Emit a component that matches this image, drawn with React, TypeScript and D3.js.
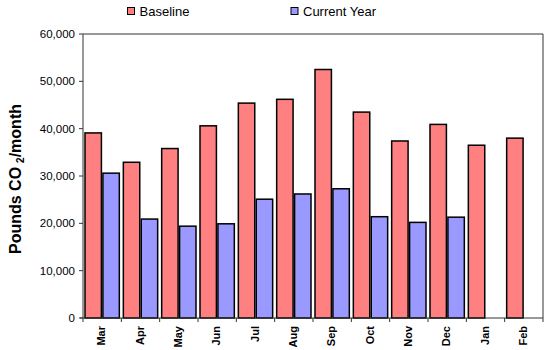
import React from "react";
import * as d3 from "d3";

const months = ["Mar", "Apr", "May", "Jun", "Jul", "Aug", "Sep", "Oct", "Nov", "Dec", "Jan", "Feb"];
const baseline = [39100, 32900, 35800, 40600, 45400, 46200, 52500, 43500, 37400, 40900, 36500, 38000];
const currentYear: (number | null)[] = [30600, 20900, 19400, 19900, 25100, 26200, 27300, 21400, 20200, 21300, null, null];
const yTicks = [0, 10000, 20000, 30000, 40000, 50000, 60000];
const seriesNames = ["Baseline", "Current Year"];
const seriesColors = ["#FF8080", "#9999FF"];

const W = 550, H = 350;
const left = 83, right = 543, top = 34, bottom = 318;

export default function App() {
  const x = d3.scaleBand<string>().domain(months).range([left, right]).paddingInner(0).paddingOuter(0);
  const inner = d3.scaleBand<string>().domain(seriesNames).range([0, x.bandwidth()]).paddingOuter(0.07).paddingInner(0);
  const y = d3.scaleLinear().domain([0, 60000]).range([bottom, top]);
  const fmt = d3.format(",");
  const series = [baseline, currentYear];
  const font = "'Liberation Sans', Arial, sans-serif";

  return (
    <svg width={W} height={H} style={{ position: "absolute", left: 0, top: 0, background: "#fff" }} fontFamily={font}>
      {/* legend */}
      {seriesNames.map((n, i) => {
        const lx = i === 0 ? 127.5 : 291;
        return (
          <g key={n}>
            <rect x={lx} y={7.5} width={7} height={7} fill={seriesColors[i]} stroke="#000" strokeWidth={1} />
            <text x={lx + 12} y={16} fontSize={13} fill="#000">{n}</text>
          </g>
        );
      })}
      {/* bars */}
      {series.map((s, si) =>
        s.map((v, i) => {
          if (v === null) return null;
          const bx = (x(months[i]) as number) + (inner(seriesNames[si]) as number);
          const bw = inner.bandwidth();
          return (
            <g key={`${si}-${i}`}>
              <rect x={bx + 0.75} y={y(v)} width={bw - 1.5} height={bottom - y(v)} fill={seriesColors[si]} stroke="#000" strokeWidth={1.5} />
            </g>
          );
        })
      )}
      {/* frame */}
      <path d={`M${left},${bottom}V${top}H${right}V${bottom}`} fill="none" stroke="#333" strokeWidth={1} />
      <line x1={left - 3} x2={right} y1={bottom} y2={bottom} stroke="#333" strokeWidth={1} />
      {/* y ticks */}
      {yTicks.map((t) => (
        <g key={t}>
          <line x1={left - 4} x2={left} y1={y(t)} y2={y(t)} stroke="#333" />
          <text x={left - 8} y={y(t) + 4} fontSize={11.5} textAnchor="end" fill="#000">{fmt(t)}</text>
        </g>
      ))}
      {/* x ticks */}
      {months.map((m, i) => (
        <line key={"t" + m} x1={left + i * x.bandwidth()} x2={left + i * x.bandwidth()} y1={bottom} y2={bottom + 4} stroke="#333" />
      ))}
      <line x1={right} x2={right} y1={bottom} y2={bottom + 4} stroke="#333" />
      {months.map((m) => {
        const cx = (x(m) as number) + x.bandwidth() / 2 - 1;
        return (
          <text key={m} transform={`translate(${cx + 4},${bottom + 8}) rotate(-90)`} textAnchor="end" fontSize={11} fontWeight="bold" fill="#000">{m}</text>
        );
      })}
      {/* y title */}
      <text transform={`translate(21,179) rotate(-90)`} textAnchor="middle" fontSize={16} fontWeight="bold" fill="#000">
        Pounds CO<tspan dx={4} fontSize={10} dy={3}>2</tspan><tspan dy={-3}>/month</tspan>
      </text>
    </svg>
  );
}
